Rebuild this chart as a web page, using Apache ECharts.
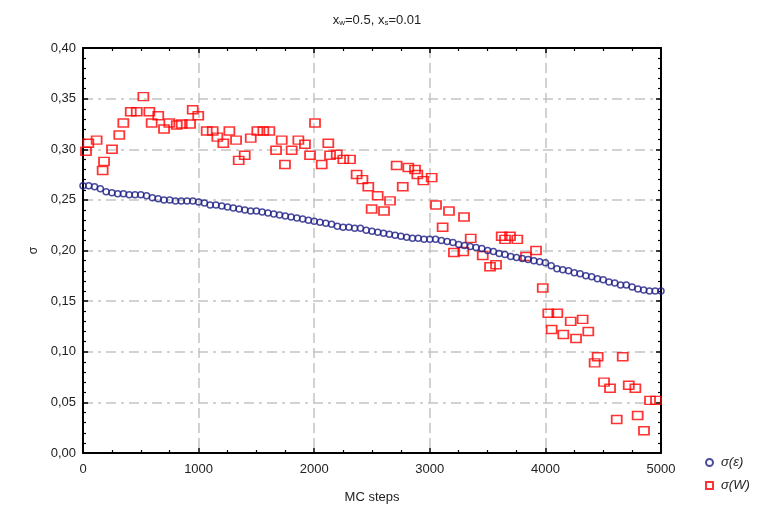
<!DOCTYPE html>
<html><head><meta charset="utf-8">
<script src="https://cdn.jsdelivr.net/npm/echarts@6/dist/echarts.min.js"></script>
<style>html,body{margin:0;padding:0;background:#fff}#c{width:774px;height:513px}</style>
</head><body><div id="c"></div>
<script>
// sigma(epsilon) series
var epsSteps = [0,50,100,150,200,250,300,350,400,450,500,550,600,650,700,750,800,850,900,950,
1000,1050,1100,1150,1200,1250,1300,1350,1400,1450,1500,1550,1600,1650,1700,1750,1800,1850,1900,1950,
2000,2050,2100,2150,2200,2250,2300,2350,2400,2450,2500,2550,2600,2650,2700,2750,2800,2850,2900,2950,
3000,3050,3100,3150,3200,3250,3300,3350,3400,3450,3500,3550,3600,3650,3700,3750,3800,3850,3900,3950,
4000,4050,4100,4150,4200,4250,4300,4350,4400,4450,4500,4550,4600,4650,4700,4750,4800,4850,4900,4950,5000];
var epsSigma = [0.264,0.264,0.263,0.261,0.258,0.257,0.256,0.256,0.255,0.255,0.255,0.254,0.252,0.251,0.250,0.250,0.249,0.249,0.249,0.249,
0.248,0.247,0.245,0.245,0.244,0.243,0.242,0.241,0.240,0.239,0.239,0.238,0.237,0.236,0.235,0.234,0.233,0.232,0.231,0.230,
0.229,0.228,0.227,0.226,0.224,0.223,0.223,0.222,0.222,0.220,0.219,0.218,0.217,0.216,0.215,0.214,0.213,0.212,0.212,0.211,
0.211,0.211,0.210,0.209,0.208,0.206,0.205,0.204,0.203,0.202,0.200,0.199,0.197,0.196,0.194,0.193,0.192,0.191,0.190,0.189,
0.188,0.185,0.182,0.181,0.180,0.178,0.177,0.175,0.174,0.172,0.171,0.169,0.168,0.166,0.166,0.164,0.162,0.161,0.160,0.160,0.160];
// sigma(W) series
var wSteps = [26,46,118,170,182,251,314,349,413,465,522,574,594,651,701,747,811,854,926,949,997,1070,
1122,1162,1214,1266,1324,1347,1399,1451,1508,1560,1612,1670,1719,1747,1805,1863,1920,1964,2007,2065,2122,2137,
2195,2252,2310,2367,2417,2468,2497,2549,2604,2656,2713,2766,2814,2872,2892,2944,3016,3054,3111,3166,
3209,3290,3296,3354,3458,3521,3573,3622,3651,3694,3757,3832,3919,
3977,4025,4054,4103,4155,4219,4265,4322,4371,4426,4452,4507,4559,4617,4669,4721,4778,4798,4853,4905,4957];
var wSigma = [0.298,0.306,0.309,0.279,0.288,0.300,0.314,0.326,0.337,0.337,0.352,0.337,0.326,0.333,0.320,0.326,0.324,0.325,0.325,0.339,0.333,0.318,
0.318,0.312,0.306,0.318,0.309,0.289,0.294,0.311,0.318,0.318,0.318,0.299,0.309,0.285,0.299,0.309,0.305,0.294,0.326,0.285,0.306,0.294,
0.295,0.290,0.290,0.275,0.270,0.263,0.241,0.254,0.239,0.249,0.284,0.263,0.282,0.280,0.275,0.269,0.272,0.245,0.223,0.239,
0.198,0.199,0.233,0.212,0.195,0.184,0.186,0.214,0.211,0.214,0.211,0.194,0.200,
0.163,0.138,0.122,0.138,0.117,0.130,0.113,0.132,0.120,0.089,0.095,0.070,0.064,0.033,0.095,0.067,0.064,0.037,0.022,0.052,0.052];
var seriesNames = ['σ(ε)', 'σ(W)'];
var titleParts = ['x', 'w', '=0.5, x', 's', '=0.01'];
var xAxisName = 'MC steps';
var yAxisName = 'σ';

function zip(a, b) { return a.map(function (v, i) { return [v, b[i]]; }); }

var font = 'Liberation Sans, Arial, sans-serif';
var gridColor = '#c4c4c4';
var chart = echarts.init(document.getElementById('c'), null, {renderer: 'canvas'});
var baseX = {
  type: 'value', min: 0, max: 5000, interval: 1000,
  axisLine: {show: true, onZero: false, lineStyle: {color: '#000', width: 2}},
  axisTick: {show: true, inside: true, length: 5, lineStyle: {color: '#000', width: 1.5}},
  minorTick: {show: true, splitNumber: 4, length: 3, lineStyle: {color: '#000', width: 1.2}},
  splitLine: {show: false}
};
var baseY = {
  type: 'value', min: 0, max: 0.4, interval: 0.05,
  axisLine: {show: true, onZero: false, lineStyle: {color: '#000', width: 2}},
  axisTick: {show: true, inside: true, length: 5, lineStyle: {color: '#000', width: 1.5}},
  minorTick: {show: true, splitNumber: 5, length: 3, lineStyle: {color: '#000', width: 1.2}},
  splitLine: {show: false}
};
var option = {
  animation: false,
  backgroundColor: '#fff',
  title: {
    text: '{n|' + titleParts[0] + '}{s|' + titleParts[1] + '}{n|' + titleParts[2] + '}{s|' + titleParts[3] + '}{n|' + titleParts[4] + '}',
    left: 372, top: 8, textAlign: 'center',
    textStyle: {
      fontWeight: 'normal',
      rich: {
        n: {fontFamily: font, fontSize: 13, fontWeight: 'normal', color: '#222'},
        s: {fontFamily: font, fontSize: 8, fontWeight: 'normal', color: '#222', verticalAlign: 'bottom', padding: [6, 0, 0, 0]}
      }
    }
  },
  grid: {left: 83, right: 113, top: 48, bottom: 60},
  legend: {
    orient: 'vertical', left: 700, top: 451, itemGap: 10,
    itemWidth: 7, itemHeight: 7,
    data: seriesNames,
    textStyle: {fontFamily: font, fontSize: 13, fontStyle: 'italic', color: '#222', padding: [0, 0, 0, 3]}
  },
  xAxis: [
    Object.assign({}, baseX, {
      position: 'bottom',
      name: xAxisName, nameLocation: 'middle', nameGap: 38,
      nameTextStyle: {fontFamily: font, fontSize: 13, color: '#222'},
      axisLabel: {fontFamily: font, fontSize: 13, color: '#222', margin: 10,
        formatter: function (v) { return String(v); }},
      splitLine: {show: true, lineStyle: {color: gridColor, width: 1.5, type: [10, 5]}}
    }),
    Object.assign({}, baseX, {position: 'top', axisLabel: {show: false}})
  ],
  yAxis: [
    Object.assign({}, baseY, {
      position: 'left',
      name: yAxisName, nameLocation: 'middle', nameGap: 40, nameRotate: 90,
      nameTextStyle: {fontFamily: font, fontSize: 12, color: '#222'},
      axisLabel: {fontFamily: font, fontSize: 13, color: '#222', margin: 7,
        formatter: function (v) { return v.toFixed(2).replace('.', ','); }},
      splitLine: {show: true, lineStyle: {color: gridColor, width: 1.5, type: [10, 5, 3, 5]}}
    }),
    Object.assign({}, baseY, {position: 'right', axisLabel: {show: false}})
  ],
  series: [
    {
      name: seriesNames[1], type: 'scatter', z: 2,
      symbol: 'rect', symbolSize: [10, 8],
      itemStyle: {color: 'rgba(255,255,255,0)', borderColor: '#ff0000', borderWidth: 1.6},
      data: zip(wSteps, wSigma)
    },
    {
      name: seriesNames[0], type: 'scatter', z: 3,
      symbol: 'circle', symbolSize: 6,
      itemStyle: {color: 'rgba(255,255,255,0)', borderColor: '#1f1f86', borderWidth: 1.5},
      data: zip(epsSteps, epsSigma)
    }
  ]
};
chart.setOption(option);
</script>
</body></html>
